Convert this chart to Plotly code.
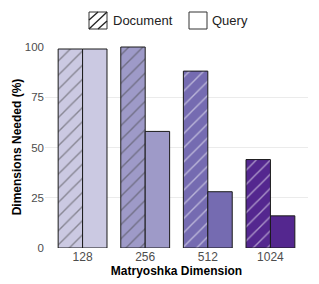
import plotly.graph_objects as go

categories = ["128", "256", "512", "1024"]
document = [99, 100, 88, 44]
query = [99, 58, 28, 16]
colors = ["#cbc9e2", "#9e9ac8", "#756bb1", "#54278f"]

FONT = "Liberation Sans, Arial, sans-serif"
W, H = 319, 284
ML, MR, MT, MB = 45, 11, 46, 36
PW, PH = W - ML - MR, H - MT - MB


def px(x):
    return (x - ML) / PW


def py(y):
    return (H - MB - y) / PH


fig = go.Figure()
fig.add_trace(go.Bar(
    x=categories, y=document, name="Document", showlegend=False, offsetgroup="d",
    marker=dict(color=colors, line=dict(color="#1a1a1a", width=1),
                pattern=dict(shape="/", fgcolor="white", fgopacity=0.5, size=10, solidity=0.14)),
))
fig.add_trace(go.Bar(
    x=categories, y=query, name="Query", showlegend=False, offsetgroup="q",
    marker=dict(color=colors, line=dict(color="#1a1a1a", width=1)),
))

# manual legend (top, centered)
shapes = []
annotations = []
bx0, bx1, by0, by1 = 89, 107, 12, 29
shapes.append(dict(type="rect", xref="paper", yref="paper",
                   x0=px(bx0), x1=px(bx1), y0=py(by1), y1=py(by0),
                   line=dict(color="#333", width=1), fillcolor="white", layer="above"))
for off in [-9, 0, 9]:
    cx = (bx0 + bx1) / 2 + off
    half = 9
    x0, y0 = cx - half, by1
    x1, y1 = cx + half, by0
    if x0 < bx0:
        y0 = y0 - (bx0 - x0)
        x0 = bx0
    if x1 > bx1:
        y1 = y1 + (x1 - bx1)
        x1 = bx1
    shapes.append(dict(type="line", xref="paper", yref="paper",
                       x0=px(x0), x1=px(x1), y0=py(y0), y1=py(y1),
                       line=dict(color="#222", width=1.3), layer="above"))
annotations.append(dict(text="Document", xref="paper", yref="paper", x=px(111), y=py(21),
                        xanchor="left", yanchor="middle", showarrow=False,
                        font=dict(size=13, color="#222")))
qx0, qx1 = 189, 207
shapes.append(dict(type="rect", xref="paper", yref="paper",
                   x0=px(qx0), x1=px(qx1), y0=py(by1), y1=py(by0),
                   line=dict(color="#333", width=1), fillcolor="white", layer="above"))
annotations.append(dict(text="Query", xref="paper", yref="paper", x=px(210), y=py(21),
                        xanchor="left", yanchor="middle", showarrow=False,
                        font=dict(size=13, color="#222")))

fig.update_layout(
    width=W, height=H,
    margin=dict(l=ML, r=MR, t=MT, b=MB),
    paper_bgcolor="white", plot_bgcolor="white",
    barmode="group", bargap=0.22, bargroupgap=0,
    showlegend=False,
    font=dict(family=FONT, size=11, color="#4d4d4d"),
    shapes=shapes, annotations=annotations,
    xaxis=dict(type="category", categoryorder="array", categoryarray=categories,
               range=[-0.6, 3.6], showgrid=False, ticks="", showline=False, zeroline=False,
               automargin=False, ticklabelstandoff=0,
               tickfont=dict(size=12, color="#4d4d4d"),
               title=dict(text="<b>Matryoshka Dimension</b>", font=dict(size=12, color="black"), standoff=0)),
    yaxis=dict(range=[0, 100.5], tickvals=[0, 25, 50, 75, 100], showgrid=True, gridcolor="#ebebeb",
               gridwidth=1, zeroline=False, ticks="", showline=False, automargin=False,
               tickfont=dict(size=11.5, color="#4d4d4d"),
               title=dict(text="<b>Dimensions Needed (%)</b>", font=dict(size=12, color="black"), standoff=0)),
)

fig.write_html("out.html", config={"displayModeBar": False},
               post_script="document.body.style.margin='0';")
